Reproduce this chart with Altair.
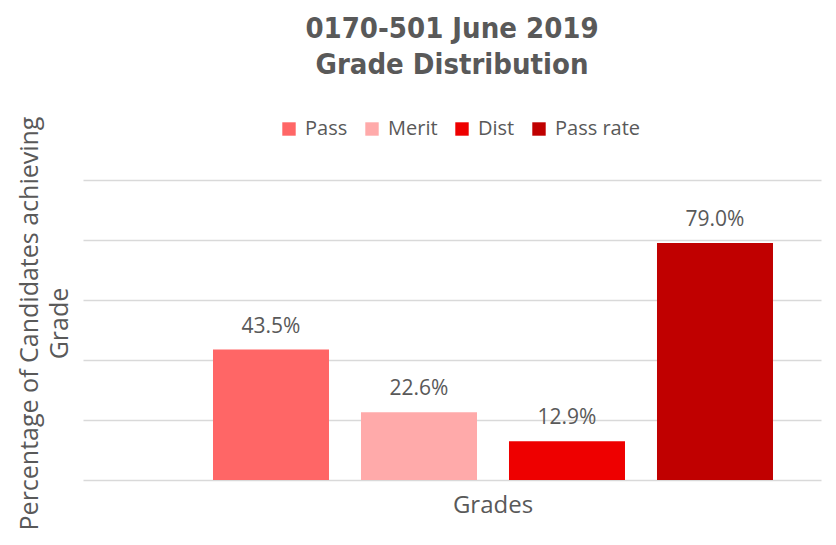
import altair as alt
import pandas as pd

series = ["Pass", "Merit", "Dist", "Pass rate"]
values = [0.435, 0.226, 0.129, 0.790]
colors = ["#FF6666", "#FFAAAA", "#EE0000", "#C00000"]
category = "Grades"

df = pd.DataFrame({"group": [category] * len(series), "series": series, "value": values})

grey = "#595959"
font = "Open Sans"

x_enc = alt.X(
    "group:N",
    title=None,
    scale=alt.Scale(paddingInner=0, paddingOuter=0.15893, align=0.7303),
    axis=alt.Axis(labelFont=font, labelFontSize=24, labelColor=grey, ticks=False,
                  domain=False, labelPadding=13, labelAngle=0),
)
xoff_enc = alt.XOffset("series:N", sort=series,
                       scale=alt.Scale(paddingInner=0.2162, paddingOuter=0))
y_enc = alt.Y(
    "value:Q",
    scale=alt.Scale(domain=[0, 1], nice=False),
    axis=alt.Axis(
        title=["Percentage of Candidates achieving", "Grade"],
        titleFont=font, titleFontSize=25, titleFontWeight="normal", titleColor=grey,
        titleLineHeight=30, titlePadding=11, titleY=143,
        labels=False, ticks=False, domain=False,
        values=[0, 0.2, 0.4, 0.6, 0.8, 1.0],
        grid=True, gridColor="#D9D9D9", gridWidth=1.5,
    ),
)

bars = alt.Chart(df).mark_bar().encode(
    x=x_enc,
    xOffset=xoff_enc,
    y=y_enc,
    color=alt.Color(
        "series:N",
        sort=series,
        scale=alt.Scale(domain=series, range=colors),
        legend=alt.Legend(
            title=None, orient="none", legendX=196, legendY=-61,
            direction="horizontal", columns=4,
            symbolType="square", symbolSize=180, symbolStrokeWidth=0,
            labelFont=font, labelFontSize=20, labelColor=grey,
            labelOffset=6, columnPadding=14, padding=0,
        ),
    ),
)

labels = alt.Chart(df).mark_text(
    font=font, fontSize=21, color=grey, baseline="alphabetic", dy=-17
).encode(
    x=x_enc,
    xOffset=xoff_enc,
    y=alt.Y("value:Q"),
    text=alt.Text("value:Q", format=".1%"),
)

chart = (
    alt.layer(bars, labels)
    .properties(
        width=738,
        height=300,
        autosize=alt.AutoSizeParams(type="none"),
        padding={"left": 75, "top": 172, "right": 2, "bottom": 50},
        title=alt.TitleParams(
            text=["0170-501 June 2019", "Grade Distribution"],
            font="DejaVu Sans Condensed", fontWeight="bold", fontSize=29,
            color=grey, lineHeight=36, anchor="middle", offset=36,
        ),
    )
    .configure(background="white")
    .configure_view(stroke=None)
)

chart.save("out.html", embed_options={"renderer": "svg", "actions": False})
